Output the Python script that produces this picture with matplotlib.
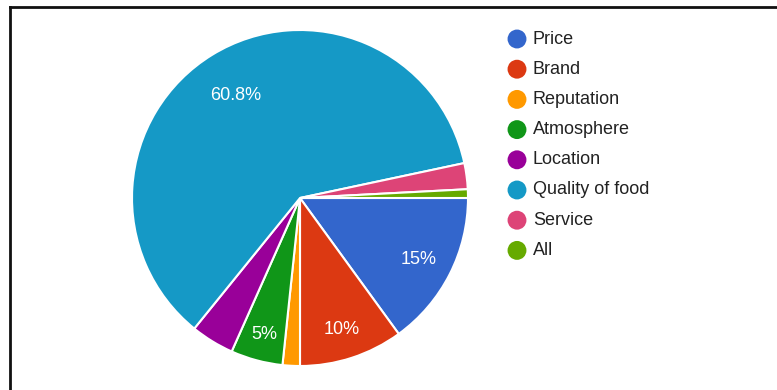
import matplotlib.pyplot as plt
from matplotlib.lines import Line2D
import numpy as np

plt.rcParams['font.family'] = ['Liberation Sans', 'DejaVu Sans']

# responses per factor (120 answers in total)
factors = ["Price", "Brand", "Reputation", "Atmosphere", "Location",
           "Quality of food", "Service", "All"]
responses = [18, 12, 2, 6, 5, 73, 3, 1]
colors = ["#3366cc", "#dc3912", "#ff9900", "#109618", "#990099",
          "#1599c6", "#dd4477", "#66aa00"]
# how far out (fraction of radius) each percentage label sits
label_dist = [0.79, 0.81, 0.8, 0.83, 0.8, 0.73, 0.8, 0.8]

W, H = 777, 390
fig = plt.figure(figsize=(W / 100, H / 100), dpi=100)

def pct_label(p):
    # small slices get no label, trailing zeros are dropped
    if p < 4.5:
        return ''
    return ('%.1f' % p).rstrip('0').rstrip('.') + '%'

# pie centred at (300, 198) px with radius 168 px
cx, cy, r = 300, 198, 168
ax = fig.add_axes([(cx - r) / W, (H - cy - r) / H, 2 * r / W, 2 * r / H])
wedges, _ = ax.pie(
    responses, colors=colors, startangle=0, counterclock=False,
    wedgeprops=dict(edgecolor='white', linewidth=1.5))

total = sum(responses)
for w, n, d in zip(wedges, responses, label_dist):
    txt = pct_label(100 * n / total)
    if not txt:
        continue
    mid = np.deg2rad((w.theta1 + w.theta2) / 2)
    ax.text(d * np.cos(mid), d * np.sin(mid) - 0.01, txt, color='white',
            fontsize=13, ha='center', va='center')

ax.set_xlim(-1, 1)
ax.set_ylim(-1, 1)
ax.set_aspect('equal')
ax.axis('off')

# legend drawn in pixel coordinates
lg = fig.add_axes([0, 0, 1, 1])
lg.set_xlim(0, W)
lg.set_ylim(H, 0)
lg.axis('off')
for i, (name, c) in enumerate(zip(factors, colors)):
    y = 39 + i * 30.2
    lg.scatter([517], [y], s=185, color=c, edgecolors='none')
    lg.text(533, y, name, fontsize=13, color='#222222', va='center', ha='left')

# frame along the top and left edges
fig.add_artist(Line2D([9.5 / W, 1], [1 - 6.5 / H, 1 - 6.5 / H],
                      transform=fig.transFigure, color='#111111', linewidth=2))
fig.add_artist(Line2D([9.5 / W, 9.5 / W], [0, 1 - 6.5 / H],
                      transform=fig.transFigure, color='#111111', linewidth=2))

fig.savefig('out.png', dpi=100)
